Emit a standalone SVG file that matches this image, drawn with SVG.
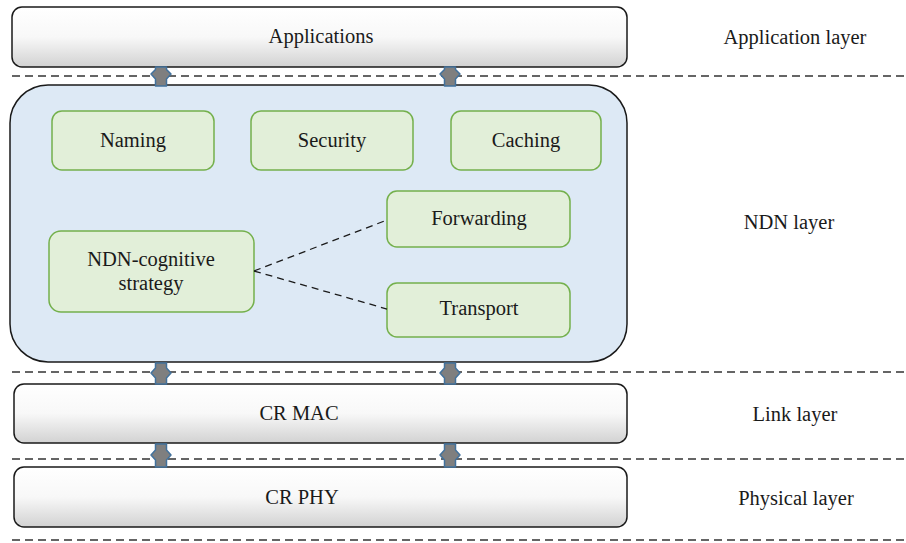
<svg xmlns="http://www.w3.org/2000/svg" width="906" height="543" viewBox="0 0 906 543">
  <defs>
    <linearGradient id="layerFill" x1="0" y1="0" x2="0" y2="1">
      <stop offset="0" stop-color="#ffffff"/>
      <stop offset="0.5" stop-color="#f8f8f8"/>
      <stop offset="1" stop-color="#d2d2d2"/>
    </linearGradient>
    <style>
      .txt { font-family: "Liberation Serif", "Times New Roman", serif; font-size: 20.5px; fill: #1a1a1a; text-anchor: middle; }
      .layer { fill: url(#layerFill); stroke: #1a1a1a; stroke-width: 1.5; }
      .ndn { fill: #dde9f5; stroke: #1a1a1a; stroke-width: 1.5; }
      .module { fill: #e2efd9; stroke: #74b04c; stroke-width: 1.5; }
      .sep { stroke: #333333; stroke-width: 1.4; stroke-dasharray: 8 5; fill: none; }
      .link { stroke: #1a1a1a; stroke-width: 1.3; stroke-dasharray: 7 5; fill: none; }
      .updown { fill: #7f7f7f; stroke: #41719c; stroke-width: 1.5; stroke-linejoin: round; }
    </style>
  </defs>

  <rect width="906" height="543" fill="#ffffff"/>

  <!-- layer separators -->
  <g id="separators">
    <line class="sep" x1="12" y1="76" x2="906" y2="76"/>
    <line class="sep" x1="12" y1="372" x2="906" y2="372"/>
    <line class="sep" x1="12" y1="459" x2="906" y2="459"/>
    <line class="sep" x1="12" y1="540" x2="906" y2="540"/>
  </g>

  <!-- stack boxes -->
  <g id="applications">
    <rect class="layer" x="12" y="7" width="615" height="60" rx="10"/>
    <text class="txt" x="321" y="43">Applications</text>
  </g>

  <g id="ndn-layer">
    <rect class="ndn" x="10" y="85" width="617" height="277" rx="38"/>
  </g>

  <g id="naming">
    <rect class="module" x="52" y="111" width="162" height="59" rx="10"/>
    <text class="txt" x="133" y="147">Naming</text>
  </g>
  <g id="security">
    <rect class="module" x="251" y="111" width="162" height="59" rx="10"/>
    <text class="txt" x="332" y="147">Security</text>
  </g>
  <g id="caching">
    <rect class="module" x="451" y="111" width="150" height="59" rx="10"/>
    <text class="txt" x="526" y="147">Caching</text>
  </g>
  <g id="forwarding">
    <rect class="module" x="387" y="191" width="183" height="56" rx="10"/>
    <text class="txt" x="479" y="225">Forwarding</text>
  </g>
  <g id="ndn-cognitive-strategy">
    <rect class="module" x="49" y="231" width="205" height="81" rx="12"/>
    <text class="txt" x="151" y="266">NDN-cognitive</text>
    <text class="txt" x="151" y="290">strategy</text>
  </g>
  <g id="transport">
    <rect class="module" x="387" y="283" width="183" height="54" rx="10"/>
    <text class="txt" x="479" y="315">Transport</text>
  </g>

  <g id="cr-mac">
    <rect class="layer" x="14" y="384" width="613" height="59" rx="10"/>
    <text class="txt" x="299" y="420">CR MAC</text>
  </g>
  <g id="cr-phy">
    <rect class="layer" x="14" y="467" width="613" height="60" rx="10"/>
    <text class="txt" x="302" y="504">CR PHY</text>
  </g>

  <!-- layer names -->
  <g id="layer-names">
    <text class="txt" x="795" y="44">Application layer</text>
    <text class="txt" x="789" y="229">NDN layer</text>
    <text class="txt" x="795" y="421">Link layer</text>
    <text class="txt" x="796" y="505">Physical layer</text>
  </g>

  <!-- connectors -->
  <g id="connectors">
    <line class="link" x1="254" y1="271" x2="387" y2="220"/>
    <line class="link" x1="254" y1="271" x2="387" y2="309"/>

    <polygon class="updown" points="155.5,67 166.5,67 166.5,69.5 171,74 166.5,79 166.5,86 155.5,86 155.5,79 151,74 155.5,69.5"/>
    <polygon class="updown" points="444.5,67 455.5,67 455.5,69.5 460,74 455.5,79 455.5,86 444.5,86 444.5,79 440,74 444.5,69.5"/>

    <polygon class="updown" points="155.5,363 166.5,363 166.5,368 171,373 166.5,378 166.5,384 155.5,384 155.5,378 151,373 155.5,368"/>
    <polygon class="updown" points="444.5,363 455.5,363 455.5,368 460,373 455.5,378 455.5,384 444.5,384 444.5,378 440,373 444.5,368"/>

    <polygon class="updown" points="155.5,444 166.5,444 166.5,450 171,455 166.5,460 166.5,467 155.5,467 155.5,460 151,455 155.5,450"/>
    <polygon class="updown" points="444.5,444 455.5,444 455.5,450 460,455 455.5,460 455.5,467 444.5,467 444.5,460 440,455 444.5,450"/>
  </g>
</svg>
